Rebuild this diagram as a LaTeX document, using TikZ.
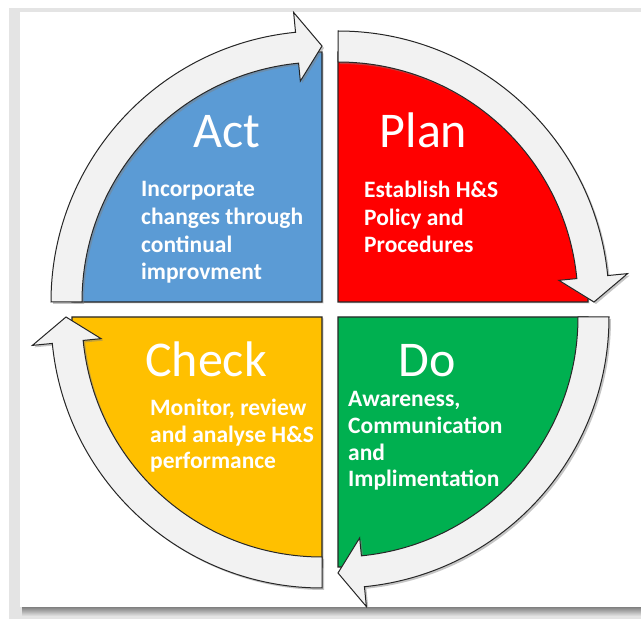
\documentclass[tikz,border=0pt]{standalone}
\usepackage{fontspec}
\setmainfont{Carlito}
\usetikzlibrary{shadows}
\definecolor{actblue}{HTML}{5B9BD5}
\definecolor{planred}{HTML}{FF0000}
\definecolor{dogreen}{HTML}{00B050}
\definecolor{checkyellow}{HTML}{FFC000}
\definecolor{bandfill}{HTML}{F2F2F2}
\definecolor{framegray}{HTML}{E4E4E4}
\tikzset{
  quad/.style={draw=black!85, line width=1.3pt, line join=miter,
    drop shadow={shadow xshift=1.5pt, shadow yshift=-1.5pt, opacity=0.35}},
  band/.style={fill=bandfill, draw=black!85, line width=1pt, line join=miter,
    drop shadow={shadow xshift=2pt, shadow yshift=-2pt, opacity=0.45}},
  title/.style={text=white, inner sep=0pt, anchor=base, font=\fontsize{50}{52}\selectfont},
  bodytext/.style={text=white, inner sep=0pt, anchor=base west, font=\bfseries\fontsize{23.5}{28}\selectfont}
}
\newcommand{\cyclearrow}[2]{%
  \pgfmathsetmacro{\wingang}{#2-90+5.6}%
  \pgfmathsetmacro{\tipang}{#2-90}%
  \draw[band, shift={#1}] (#2:240) -- (#2:271)
    arc[start angle=#2, end angle=\wingang, radius=271]
    -- (\wingang:291) -- (\tipang:256) -- (\wingang:222) -- (\wingang:240)
    arc[start angle=\wingang, end angle=#2, radius=240] -- cycle;
}
\begin{document}
\begin{tikzpicture}[x=1pt, y=1pt]
\useasboundingbox (0,0) rectangle (641,619);
% page frame
\fill[framegray] (9,0) rectangle (641,611);
\shade[top color=black!50, bottom color=framegray] (22,3) rectangle (641,12);
\fill[white] (20,12) rectangle (641,607);
% quadrants
\draw[quad, fill=actblue, shift={(322,317)}] (0,0) -- (180:250) arc[start angle=180, end angle=90, radius=250] -- cycle;
\draw[quad, fill=planred, shift={(338,317)}] (0,0) -- (90:250) arc[start angle=90, end angle=0, radius=250] -- cycle;
\draw[quad, fill=dogreen, shift={(338,302)}] (0,0) -- (0:250) arc[start angle=0, end angle=-90, radius=250] -- cycle;
\draw[quad, fill=checkyellow, shift={(322,302)}] (0,0) -- (270:250) arc[start angle=270, end angle=180, radius=250] -- cycle;
% circular arrows
\cyclearrow{(322,317)}{180}
\cyclearrow{(338,317)}{90}
\cyclearrow{(338,302)}{0}
\cyclearrow{(322,302)}{270}
% titles
\node[title] (act) at (226.5,471) {Act};
\node[title] (plan) at (423.5,471) {Plan};
\node[title] (check) at (206,242) {Check};
\node[title] (do) at (427.5,242) {Do};
% bodies
\node[bodytext] (actbody) at (141,422) {\vtop{\baselineskip=27.6pt\hbox{Incorporate}\hbox{changes through}\hbox{continual}\hbox{improvment}}};
\node[bodytext] (planbody) at (364,421) {\vtop{\baselineskip=27.5pt\hbox{Establish H\&S}\hbox{Policy and}\hbox{Procedures}}};
\node[bodytext] (checkbody) at (150,203) {\vtop{\baselineskip=26.2pt\hbox{Monitor, review}\hbox{and analyse H\&S}\hbox{performance}}};
\node[bodytext] (dobody) at (348,212) {\vtop{\baselineskip=26.6pt\hbox{Awareness,}\hbox{Communication}\hbox{and}\hbox{Implimentation}}};
\end{tikzpicture}
\end{document}
